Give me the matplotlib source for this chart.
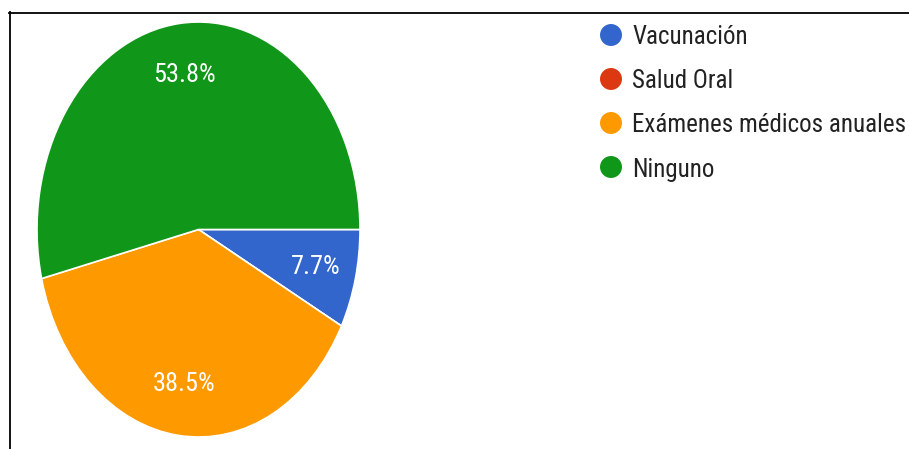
import matplotlib
matplotlib.use("Agg")
import matplotlib.pyplot as plt
from matplotlib.lines import Line2D

# survey answers (share of respondents)
labels = ["Vacunación", "Salud Oral", "Exámenes médicos anuales", "Ninguno"]
values = [7.7, 0.0, 38.5, 53.8]
colors = ["#3366cc", "#dc3912", "#ff9900", "#109618"]

W, H = 909, 449
FONT = ["Roboto Condensed", "DejaVu Sans"]

fig = plt.figure(figsize=(W / 100, H / 100), dpi=100)

# pie drawn in an axes that is taller than wide (the screenshot is squished)
ax = fig.add_axes([37 / W, 12 / H, 323 / W, 415 / H])


def pct(p):
    return f"{p:.1f}%" if p > 0.5 else ""


wedges, texts, autotexts = ax.pie(
    values,
    colors=colors,
    startangle=0,
    counterclock=False,
    autopct=pct,
    pctdistance=0.75,
    wedgeprops=dict(edgecolor="white", linewidth=1.2),
    textprops=dict(color="white", fontsize=19, family=FONT),
)
ax.set_aspect("auto")
ax.set_xlim(-1, 1)
ax.set_ylim(-1, 1)

# overlay axes in pixel coords for border and legend
ov = fig.add_axes([0, 0, 1, 1], zorder=-1)
ov.set_xlim(0, W)
ov.set_ylim(H, 0)
ov.axis("off")
ov.add_line(Line2D([9.5, 9.5], [12, H], color="black", linewidth=1.3))
ov.add_line(Line2D([9, W], [12.5, 12.5], color="black", linewidth=1.3))

lg = fig.add_axes([0, 0, 1, 1])
lg.set_xlim(0, W)
lg.set_ylim(H, 0)
lg.axis("off")
for i, (lab, col) in enumerate(zip(labels, colors)):
    y = 35 + 44 * i
    lg.scatter([611], [y], s=250, color=col, edgecolors="none")
    lg.text(632, y + 9.5, lab, fontsize=18, family=FONT, color="#222222",
            va="baseline", ha="left")

fig.savefig("out.png", dpi=100)
